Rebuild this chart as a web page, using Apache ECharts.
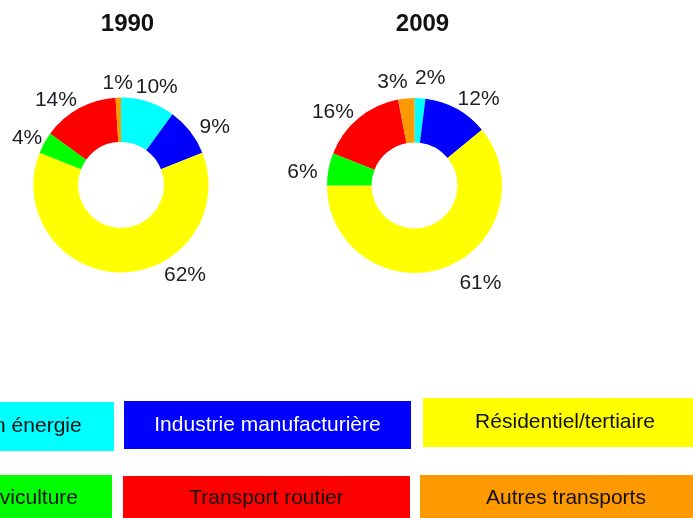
<!DOCTYPE html>
<html>
<head>
<meta charset="utf-8">
<script src="https://cdn.jsdelivr.net/npm/echarts@6/dist/echarts.min.js"></script>
<style>
html, body { margin: 0; padding: 0; background: #fff; }
#chart { width: 693px; height: 518px; }
</style>
</head>
<body>
<div id="chart"></div>
<script>
// secteurs, dans l'ordre des parts (sens horaire depuis midi)
var sectors = ['Transformation énergie', 'Industrie manufacturière', 'Résidentiel/tertiaire',
  'Agriculture/sylviculture', 'Transport routier', 'Autres transports'];
var sectorColors = ['#00ffff', '#0000ff', '#ffff00', '#00ff00', '#ff0000', '#ff9900'];
var years = ['1990', '2009'];
var share1990 = [10, 9, 62, 4, 14, 1]; // %
var share2009 = [2, 12, 61, 6, 16, 3]; // %

// mise en page
var FONT = "'Liberation Sans', Arial, sans-serif";
var centers = [[121, 185], [414.5, 185.5]];
var titlePos = [[127.5, 24], [422.5, 24]];
// petits décalages des étiquettes (placement "au mieux" du graphique d'origine)
var labelShift = [
  [[3, 3], [10, 7], [64, -16], [-1, 4], [-14, 8], [0, 4]],
  [[9, -2], [13, 7], [30, -2], [-8, 7], [-14, 8], [-12, 2]]
];
// cadres de la légende [x, y, w, h], certains coupés par le bord de l'image
var legendBoxes = [
  [-167, 402, 281, 49], [124, 401, 287, 48], [423, 398, 284, 49],
  [-166, 475, 278, 46], [123, 476, 287, 45], [420, 475, 292, 46]
];

var chart = echarts.init(document.getElementById('chart'));

function pieSeries (k, values) {
  var data = values.map(function (v, i) {
    return {name: sectors[i], value: v, itemStyle: {color: sectorColors[i]}};
  });
  var labelData = values.map(function (v, i) {
    return {name: sectors[i], value: v, itemStyle: {color: 'rgba(0,0,0,0)'}};
  });
  return [
    {
      type: 'pie',
      center: centers[k],
      radius: [43, 87.5],
      startAngle: 90,
      clockwise: true,
      silent: true,
      animation: false,
      label: {show: false},
      labelLine: {show: false},
      data: data
    },
    {
      // anneau invisible qui porte les étiquettes
      type: 'pie',
      center: centers[k],
      radius: [96, 110],
      startAngle: 90,
      clockwise: true,
      silent: true,
      animation: false,
      label: {
        show: true,
        position: 'inside',
        formatter: '{c}%',
        fontSize: 21,
        fontFamily: FONT,
        color: '#1c1c24'
      },
      labelLine: {show: false},
      labelLayout: function (p) {
        var s = labelShift[k][p.dataIndex];
        return {dx: s[0], dy: s[1]};
      },
      data: labelData
    }
  ];
}

var graphic = [];
years.forEach(function (y, k) {
  graphic.push({
    type: 'text',
    x: titlePos[k][0],
    y: titlePos[k][1],
    style: {
      text: y, fill: '#111', font: 'bold 24px ' + FONT,
      textAlign: 'center', textVerticalAlign: 'middle'
    }
  });
});
sectors.forEach(function (name, i) {
  var b = legendBoxes[i];
  graphic.push({
    type: 'rect',
    shape: {x: b[0], y: b[1], width: b[2], height: b[3]},
    style: {fill: sectorColors[i]}
  });
  graphic.push({
    type: 'text',
    x: b[0] + b[2] / 2,
    y: b[1] + b[3] / 2,
    style: {
      text: name, fill: i === 1 ? '#fff' : '#111', font: '21px ' + FONT,
      textAlign: 'center', textVerticalAlign: 'middle'
    }
  });
});

chart.setOption({
  backgroundColor: '#fff',
  animation: false,
  graphic: graphic,
  series: pieSeries(0, share1990).concat(pieSeries(1, share2009))
});
</script>
</body>
</html>
